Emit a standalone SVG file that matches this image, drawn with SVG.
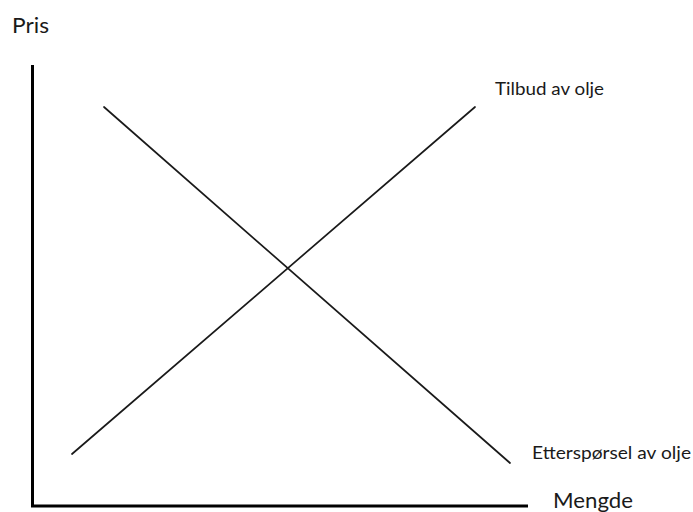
<svg xmlns="http://www.w3.org/2000/svg" width="693" height="512" viewBox="0 0 693 512">
<style>
text{font-family:Lato,"Open Sans","Liberation Sans",sans-serif;fill:#1a1a1a}
.axis{stroke:#000;stroke-width:3;fill:none}
.curve{stroke:#1a1a1a;stroke-width:1.7;fill:none;stroke-linecap:round}
</style>
<rect width="693" height="512" fill="#fff"/>
<g id="axes">
<path class="axis" d="M32.5 65V506H528"/>
</g>
<g id="connectors">
<line id="supply" class="curve" x1="72" y1="454" x2="475" y2="107"/>
<line id="demand" class="curve" x1="104" y1="107" x2="510" y2="463"/>
</g>
<g id="labels">
<text x="12" y="33" font-size="21.5" textLength="37" lengthAdjust="spacingAndGlyphs">Pris</text>
<text x="495" y="95" font-size="18" textLength="109" lengthAdjust="spacingAndGlyphs">Tilbud av olje</text>
<text x="532" y="459" font-size="18" textLength="159" lengthAdjust="spacingAndGlyphs">Etterspørsel av olje</text>
<text x="553" y="508" font-size="21.5" textLength="80" lengthAdjust="spacingAndGlyphs">Mengde</text>
</g>
</svg>
